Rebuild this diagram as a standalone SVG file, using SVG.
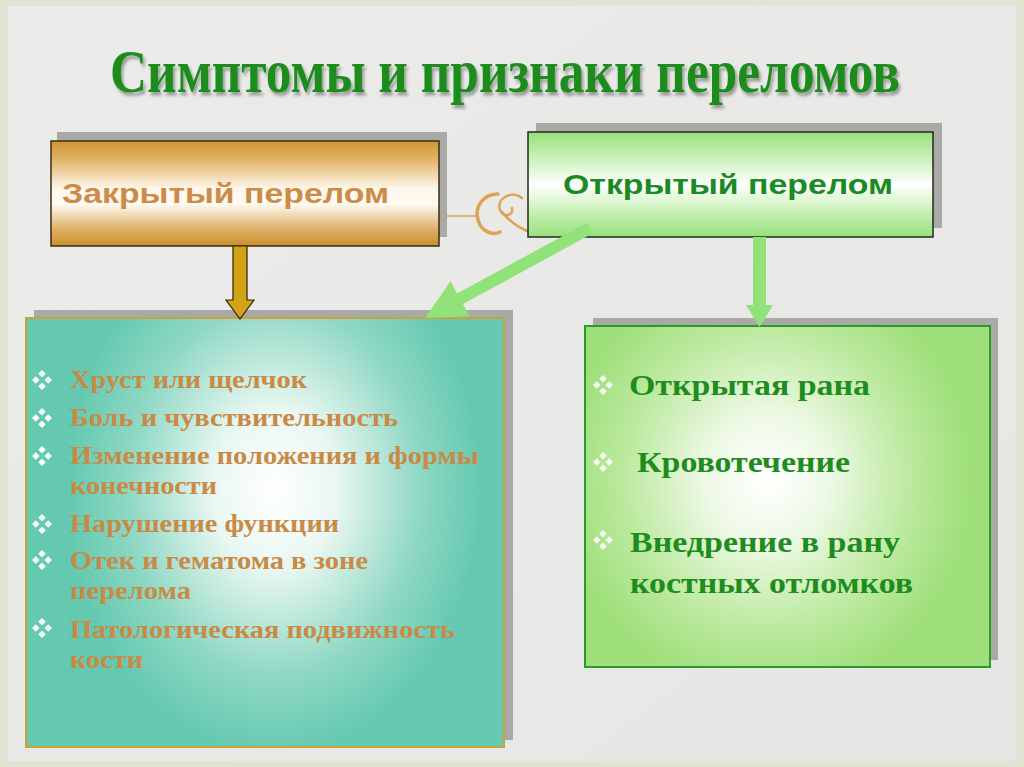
<svg xmlns="http://www.w3.org/2000/svg" width="1024" height="767" viewBox="0 0 1024 767">
<style>
.title{font-family:"Liberation Serif","Times New Roman",serif;font-weight:bold;font-size:54px;fill:#1e8c1e}
.hdr{font-family:"Liberation Sans",Arial,sans-serif;font-weight:bold;font-size:28px}
.li{font-family:"Liberation Serif","Times New Roman",serif;font-weight:bold;font-size:26px;fill:#c98a45}
.ri{font-family:"Liberation Serif","Times New Roman",serif;font-weight:bold;font-size:30px;fill:#1e8c1e}
.shadow{fill:#a9a9a5}
</style>
<defs>
<linearGradient id="bg" x1="0" y1="0" x2="1" y2="1">
<stop offset="0" stop-color="#ebebe9"/><stop offset="1" stop-color="#e6e6e4"/>
</linearGradient>
<linearGradient id="gold" x1="0" y1="0" x2="0" y2="1">
<stop offset="0" stop-color="#cf9530"/><stop offset="0.18" stop-color="#e2b468"/><stop offset="0.45" stop-color="#fdf6ea"/><stop offset="0.6" stop-color="#fffaf2"/><stop offset="0.85" stop-color="#ddad62"/><stop offset="1" stop-color="#c98f2c"/>
</linearGradient>
<linearGradient id="lgreen" x1="0" y1="0" x2="0" y2="1">
<stop offset="0" stop-color="#98e07a"/><stop offset="0.22" stop-color="#c4efb0"/><stop offset="0.5" stop-color="#ffffff"/><stop offset="0.78" stop-color="#c4efb0"/><stop offset="1" stop-color="#98e07a"/>
</linearGradient>
<radialGradient id="teal" cx="0.52" cy="0.4" r="0.62" fx="0.52" fy="0.4" gradientTransform="translate(0.52 0.4) scale(0.7 1) translate(-0.52 -0.4)">
<stop offset="0" stop-color="#ffffff"/><stop offset="0.3" stop-color="#e9f7f2"/><stop offset="0.7" stop-color="#8fd8c4"/><stop offset="1" stop-color="#64c9b0"/>
</radialGradient>
<radialGradient id="green" cx="0.45" cy="0.45" r="0.62" fx="0.45" fy="0.45" gradientTransform="translate(0.45 0.45) scale(0.8 1) translate(-0.45 -0.45)">
<stop offset="0" stop-color="#ffffff"/><stop offset="0.3" stop-color="#eef9e6"/><stop offset="0.7" stop-color="#bdeaa0"/><stop offset="1" stop-color="#a0e07c"/>
</radialGradient>
<filter id="ts" x="-5%" y="-30%" width="110%" height="160%">
<feDropShadow dx="2" dy="3" stdDeviation="1.5" flood-color="#000" flood-opacity="0.35"/>
</filter>
<g id="bul">
<path d="M0 -10 L3.8 -6.2 L0 -2.4 L-3.8 -6.2Z M6.2 -3.8 L10 0 L6.2 3.8 L2.4 0Z M0 2.4 L3.8 6.2 L0 10 L-3.8 6.2Z M-6.2 -3.8 L-2.4 0 L-6.2 3.8 L-10 0Z" fill="#f7faf5"/>
</g>
</defs>
<rect width="1024" height="767" fill="#e3e3d3"/>
<rect x="8" y="6" width="1008" height="755" fill="url(#bg)"/>

<text class="title" transform="translate(110 92) scale(1 1.15)" x="0" y="0" textLength="790" lengthAdjust="spacingAndGlyphs" filter="url(#ts)">Симптомы и признаки переломов</text>

<g id="ornament" fill="none" stroke="#dca452" stroke-linecap="round">
<line x1="440" y1="216" x2="478" y2="216" stroke-width="1.5"/>
<path d="M498 194 C484 194 474 206 478 220 C481 231 492 236 500 232" stroke-width="3.5"/>
<path d="M522 198 C512 190 496 198 500 210 C503 218 514 216 512 208" stroke-width="2.5"/>
<path d="M502 212 C510 222 518 228 530 232" stroke-width="2.5"/>
</g>

<g id="closed">
<rect class="shadow" x="57" y="132" width="390" height="105"/>
<rect x="51" y="141" width="388" height="105" fill="url(#gold)" stroke="#3a2c12" stroke-width="1.5"/>
<text class="hdr" x="62" y="203" textLength="327" lengthAdjust="spacingAndGlyphs" fill="#cd8a48">Закрытый перелом</text>
</g>

<g id="open">
<rect class="shadow" x="536" y="123" width="406" height="105"/>
<rect x="528" y="132" width="405" height="105" fill="url(#lgreen)" stroke="#1f2a1a" stroke-width="1.5"/>
<text class="hdr" x="563" y="194" textLength="330" lengthAdjust="spacingAndGlyphs" fill="#1a8a22">Открытый перелом</text>
</g>

<g id="closed-list">
<rect class="shadow" x="34" y="310" width="479" height="430"/>
<rect x="26" y="318" width="478" height="429" fill="url(#teal)" stroke="#c9a23a" stroke-width="2"/>
<use href="#bul" x="42" y="380"/>
<use href="#bul" x="42" y="418"/>
<use href="#bul" x="42" y="456"/>
<use href="#bul" x="42" y="524"/>
<use href="#bul" x="42" y="560"/>
<use href="#bul" x="42" y="628"/>
<text class="li" x="70" y="388" textLength="237" lengthAdjust="spacingAndGlyphs">Хруст или щелчок</text>
<text class="li" x="70" y="426" textLength="328" lengthAdjust="spacingAndGlyphs">Боль и чувствительность</text>
<text class="li" x="70" y="464" textLength="409" lengthAdjust="spacingAndGlyphs">Изменение положения и формы</text>
<text class="li" x="70" y="494" textLength="147" lengthAdjust="spacingAndGlyphs">конечности</text>
<text class="li" x="70" y="532" textLength="269" lengthAdjust="spacingAndGlyphs">Нарушение функции</text>
<text class="li" x="70" y="569" textLength="298" lengthAdjust="spacingAndGlyphs">Отек и гематома в зоне</text>
<text class="li" x="70" y="599" textLength="121" lengthAdjust="spacingAndGlyphs">перелома</text>
<text class="li" x="70" y="638" textLength="385" lengthAdjust="spacingAndGlyphs">Патологическая подвижность</text>
<text class="li" x="70" y="668" textLength="73" lengthAdjust="spacingAndGlyphs">кости</text>
</g>

<g id="open-list">
<rect class="shadow" x="593" y="318" width="405" height="342"/>
<rect x="585" y="326" width="405" height="341" fill="url(#green)" stroke="#2a9a2a" stroke-width="2"/>
<use href="#bul" x="603" y="385"/>
<use href="#bul" x="603" y="462"/>
<use href="#bul" x="603" y="540"/>
<text class="ri" x="629" y="395" textLength="241" lengthAdjust="spacingAndGlyphs">Открытая рана</text>
<text class="ri" x="637" y="472" textLength="213" lengthAdjust="spacingAndGlyphs">Кровотечение</text>
<text class="ri" x="630" y="552" textLength="270" lengthAdjust="spacingAndGlyphs">Внедрение в рану</text>
<text class="ri" x="630" y="593" textLength="283" lengthAdjust="spacingAndGlyphs">костных отломков</text>
</g>

<g id="connectors">
<polygon points="233,246 247,246 247,300 254,300 240,319 226,300 233,300" fill="#d4a215" stroke="#2e2308" stroke-width="1.2" stroke-linejoin="miter"/>
<polygon points="587.1,222.7 457.2,293.5 450.5,281.2 425,318 469.7,316.4 463,304.1 592.9,233.3" fill="#92e27a"/>
<polygon points="753,237 766,237 766,305 773,305 759.5,327 746,305 753,305" fill="#92e27a"/>
</g>
</svg>
